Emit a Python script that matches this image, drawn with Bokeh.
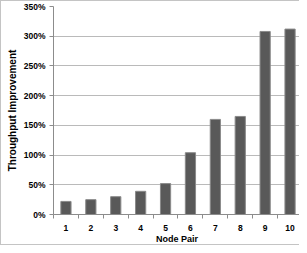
from bokeh.plotting import figure
from bokeh.models import FixedTicker, NumeralTickFormatter, Range1d
from bokeh.embed import file_html
from bokeh.resources import INLINE

node_pairs = [1, 2, 3, 4, 5, 6, 7, 8, 9, 10]
improvement = [0.22, 0.25, 0.30, 0.39, 0.52, 1.04, 1.60, 1.65, 3.08, 3.12]
y_ticks = [0, 0.5, 1.0, 1.5, 2.0, 2.5, 3.0, 3.5]

FONT = "Liberation Sans"

p = figure(width=299, height=245, output_backend="svg", toolbar_location=None,
           x_range=Range1d(0.5, 10.42), y_range=Range1d(0, 3.5),
           min_border_left=52, min_border_right=0, min_border_top=5, min_border_bottom=25,
           styles={"border-left": "1px solid #c4c4c4", "border-top": "1px solid #c4c4c4",
                   "border-bottom": "1px solid #c4c4c4"})
p.outline_line_color = None
p.background_fill_color = "white"
p.border_fill_color = "white"

p.vbar(x=node_pairs, top=improvement, width=0.41, fill_color="#595959",
       line_color="#8a8a8a", line_width=1)

# y axis
p.yaxis.ticker = FixedTicker(ticks=y_ticks)
p.yaxis.formatter = NumeralTickFormatter(format="0%")
p.yaxis.axis_label = "Throughput Improvement"
p.yaxis.axis_label_text_font = FONT
p.yaxis.axis_label_text_font_style = "bold"
p.yaxis.axis_label_text_font_size = "10px"
p.yaxis.axis_label_text_color = "#000000"
p.yaxis.axis_label_standoff = 3
p.yaxis.major_label_text_font = FONT
p.yaxis.major_label_text_font_style = "bold"
p.yaxis.major_label_text_font_size = "8.5px"
p.yaxis.major_label_text_color = "#000000"
p.yaxis.major_label_standoff = 4
p.yaxis.axis_line_color = "#8c8c8c"
p.yaxis.major_tick_line_color = "#8c8c8c"
p.yaxis.major_tick_out = 4
p.yaxis.major_tick_in = 0
p.yaxis.minor_tick_line_color = None

# x axis
p.xaxis.ticker = FixedTicker(ticks=node_pairs,
                             minor_ticks=[v - 0.5 for v in node_pairs] + [10.5])
p.xaxis.axis_label = "Node Pair"
p.xaxis.axis_label_text_font = FONT
p.xaxis.axis_label_text_font_style = "bold"
p.xaxis.axis_label_text_font_size = "9px"
p.xaxis.axis_label_text_color = "#000000"
p.xaxis.axis_label_standoff = 0
p.xaxis.major_label_text_font = FONT
p.xaxis.major_label_text_font_style = "bold"
p.xaxis.major_label_text_font_size = "8.5px"
p.xaxis.major_label_text_color = "#000000"
p.xaxis.major_label_standoff = 4
p.xaxis.axis_line_color = "#8c8c8c"
p.xaxis.major_tick_line_color = None
p.xaxis.minor_tick_line_color = "#8c8c8c"
p.xaxis.minor_tick_out = 4
p.xaxis.minor_tick_in = 0

p.xgrid.grid_line_color = None
p.ygrid.grid_line_color = "#bababa"
p.ygrid.grid_line_width = 1

open("out.html", "w").write(file_html(p, INLINE))
